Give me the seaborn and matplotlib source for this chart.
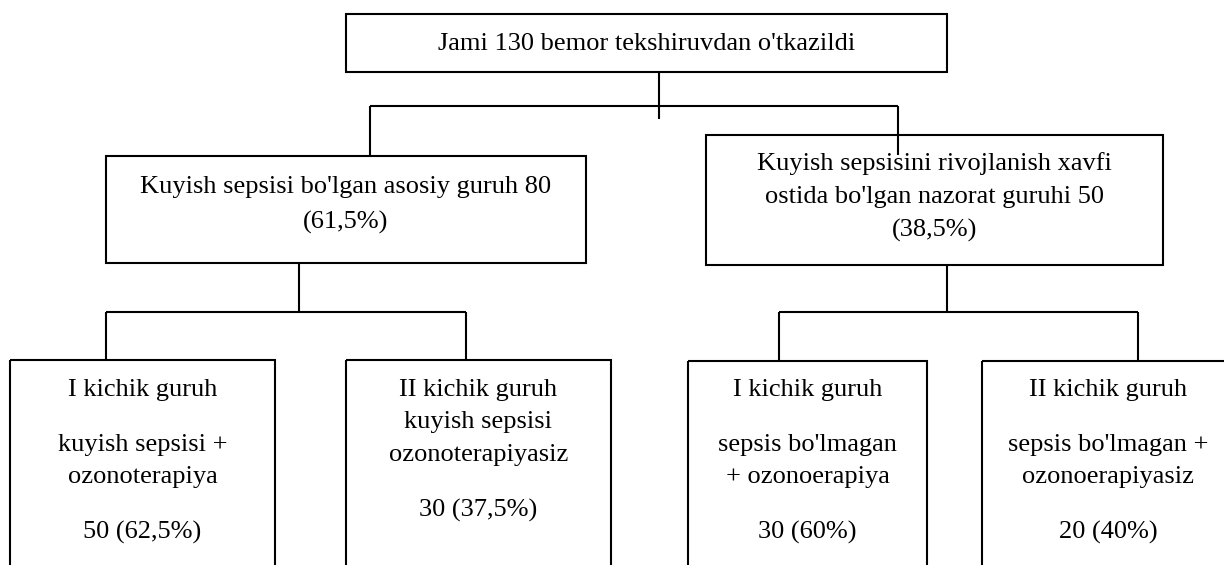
import matplotlib
matplotlib.use("Agg")
import matplotlib.pyplot as plt
from matplotlib.patches import Rectangle
import seaborn as sns

# Box texts (one list of lines per box)
top_text = ["Jami 130 bemor tekshiruvdan o'tkazildi"]
main_text = ["Kuyish sepsisi bo'lgan asosiy guruh 80", "(61,5%)"]
control_text = ["Kuyish sepsisini rivojlanish xavfi", "ostida bo'lgan nazorat guruhi 50", "(38,5%)"]
sub1_text = ["I kichik guruh", "kuyish sepsisi +", "ozonoterapiya", "50 (62,5%)"]
sub2_text = ["II kichik guruh", "kuyish sepsisi", "ozonoterapiyasiz", "30 (37,5%)"]
sub3_text = ["I kichik guruh", "sepsis bo'lmagan", "+ ozonoerapiya", "30 (60%)"]
sub4_text = ["II kichik guruh", "sepsis bo'lmagan +", "ozonoerapiyasiz", "20 (40%)"]

# layout (pixels, y downwards)
box_texts = [top_text, main_text, control_text, sub1_text, sub2_text, sub3_text, sub4_text]
box_left = [346, 106, 706, 10, 346, 688, 982]
box_right = [947, 586, 1163, 275, 611, 927, 1234]
box_top = [14, 156, 135, 360, 360, 361, 361]
box_bottom = [72, 263, 265, 600, 600, 600, 600]
line_y = [
    [44],
    [187, 222],
    [164, 197, 230],
    [390, 445, 477, 532],
    [390, 422, 455, 510],
    [390, 445, 477, 532],
    [390, 445, 477, 532],
]

# connector segments: (x0, y0, x1, y1)
connectors = [
    (659, 72, 659, 119),
    (370, 106, 898, 106),
    (370, 106, 370, 156),
    (898, 106, 898, 155),
    (299, 263, 299, 312),
    (106, 312, 466, 312),
    (106, 312, 106, 360),
    (466, 312, 466, 360),
    (947, 265, 947, 312),
    (779, 312, 1138, 312),
    (779, 312, 779, 361),
    (1138, 312, 1138, 361),
]

sns.set_theme(style="white")
plt.rcParams['font.family'] = ['Liberation Serif', 'DejaVu Serif']

fig = plt.figure(figsize=(12.24, 5.65), dpi=100)
ax = fig.add_axes([0, 0, 1, 1])
ax.set_xlim(0, 1224)
ax.set_ylim(565, 0)
ax.axis('off')

for texts, x0, x1, y0, y1, ys in zip(box_texts, box_left, box_right, box_top, box_bottom, line_y):
    ax.add_patch(Rectangle((x0, y0), x1 - x0, y1 - y0, fill=False,
                           edgecolor='black', linewidth=1.5, clip_on=True))
    cx = (x0 + x1) / 2
    for t, y in zip(texts, ys):
        ax.text(cx, y, t, ha='center', va='center', fontsize=19, color='black')

for x0, y0, x1, y1 in connectors:
    ax.plot([x0, x1], [y0, y1], color='black', linewidth=1.5, solid_capstyle='butt')

fig.savefig('out.png', dpi=100)
